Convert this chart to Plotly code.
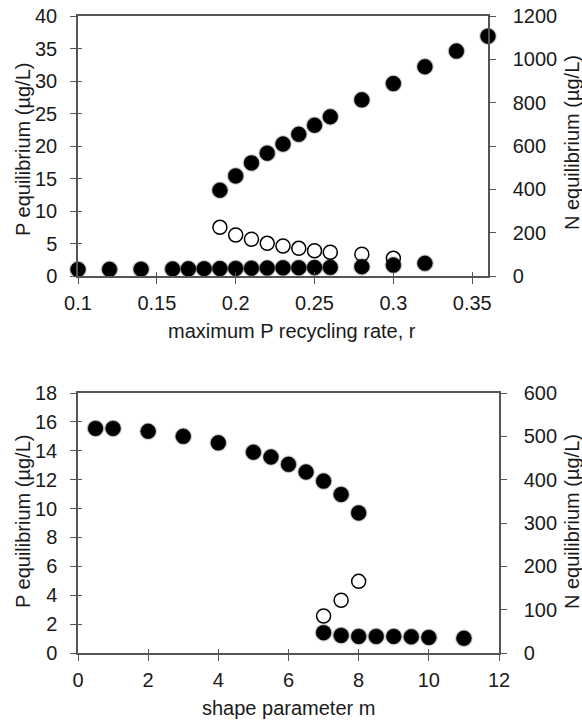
import plotly.graph_objects as go

# ---------------- data: top panel (maximum P recycling rate r) ----------------
r_low = [0.10, 0.12, 0.14, 0.16, 0.17, 0.18, 0.19, 0.20, 0.21, 0.22, 0.23, 0.24, 0.25, 0.26, 0.28, 0.30, 0.32]
p_low = [1.0, 1.02, 1.05, 1.08, 1.1, 1.12, 1.14, 1.17, 1.2, 1.22, 1.25, 1.27, 1.3, 1.33, 1.43, 1.68, 1.95]

r_high = [0.19, 0.20, 0.21, 0.22, 0.23, 0.24, 0.25, 0.26, 0.28, 0.30, 0.32, 0.34, 0.36]
p_high = [13.2, 15.4, 17.4, 18.9, 20.3, 21.8, 23.2, 24.5, 27.1, 29.6, 32.2, 34.6, 36.9]

r_uns = [0.19, 0.20, 0.21, 0.22, 0.23, 0.24, 0.25, 0.26, 0.28, 0.30]
p_uns = [7.49, 6.31, 5.65, 5.03, 4.62, 4.26, 3.89, 3.65, 3.34, 2.72]

# ---------------- data: bottom panel (shape parameter m) ----------------
m_high = [0.5, 1, 2, 3, 4, 5, 5.5, 6, 6.5, 7, 7.5, 8]
q_high = [15.55, 15.55, 15.35, 15.0, 14.55, 13.9, 13.57, 13.06, 12.53, 11.9, 10.98, 9.7]

m_uns = [7, 7.5, 8]
q_uns = [2.56, 3.65, 4.96]

m_low = [7, 7.5, 8, 8.5, 9, 9.5, 10, 11]
q_low = [1.41, 1.22, 1.15, 1.15, 1.15, 1.12, 1.08, 1.02]

# ---------------- tick labels ----------------
top_x_ticks = [0.1, 0.15, 0.2, 0.25, 0.3, 0.35]
top_y_ticks = [0, 5, 10, 15, 20, 25, 30, 35, 40]
top_y2_ticks = [0, 200, 400, 600, 800, 1000, 1200]
bot_x_ticks = [0, 2, 4, 6, 8, 10, 12]
bot_y_ticks = [0, 2, 4, 6, 8, 10, 12, 14, 16, 18]
bot_y2_ticks = [0, 100, 200, 300, 400, 500, 600]

FONT = "Liberation Sans, Arial, Helvetica, sans-serif"
TXT = "#1a1a1a"
AX = "#555555"
FS = 20

fig = go.Figure()

def filled(x, y, xa, ya):
    # soft shadow
    fig.add_trace(go.Scatter(x=x, y=y, xaxis=xa, yaxis=ya, mode="markers", cliponaxis=False,
                             marker=dict(size=18, color="rgba(0,0,0,0.15)", line=dict(width=0)),
                             hoverinfo="skip", showlegend=False))
    fig.add_trace(go.Scatter(x=x, y=y, xaxis=xa, yaxis=ya, mode="markers", cliponaxis=False,
                             marker=dict(size=15, color="black", line=dict(width=0.5, color="black")),
                             showlegend=False))

def hollow(x, y, xa, ya):
    fig.add_trace(go.Scatter(x=x, y=y, xaxis=xa, yaxis=ya, mode="markers", cliponaxis=False,
                             marker=dict(size=14, color="white", line=dict(width=1.5, color="black")),
                             showlegend=False))

hollow(r_uns, p_uns, "x", "y")
filled(r_low, p_low, "x", "y")
filled(r_high, p_high, "x", "y")

hollow(m_uns, q_uns, "x2", "y2")
filled(m_high, q_high, "x2", "y2")
filled(m_low, q_low, "x2", "y2")

tickfont = dict(family=FONT, size=FS, color=TXT)
common_x = dict(showline=True, linecolor=AX, linewidth=1.5, mirror=True, ticks="outside",
                ticklen=6, tickwidth=1.2, tickcolor=AX, showgrid=False, zeroline=False,
                tickfont=tickfont, ticklabelstandoff=2, automargin=False)
common_y = dict(showline=True, linecolor=AX, linewidth=1.5, ticks="outside",
                ticklen=6, tickwidth=1.2, tickcolor=AX, showgrid=False, zeroline=False,
                tickfont=tickfont, ticklabelstandoff=9, automargin=False)
inside_tick = dict(showline=False, ticks="inside", ticklen=4, tickwidth=1.2, tickcolor=AX,
                   showgrid=False, zeroline=False, showticklabels=False, automargin=False)

top_xdom = [78 / 582, 488 / 582]
bot_xdom = [78 / 582, 499 / 582]
top_ydom = [1 - 276 / 723, 1 - 16 / 723]
bot_ydom = [1 - 653 / 723, 1 - 393 / 723]

fig.update_layout(
    width=582, height=723,
    margin=dict(l=0, r=0, t=0, b=0, autoexpand=False),
    paper_bgcolor="white", plot_bgcolor="white",
    font=dict(family=FONT, size=FS, color=TXT),
    showlegend=False,
    xaxis=dict(common_x, domain=top_xdom, anchor="y", range=[0.1, 0.36],
               tickvals=top_x_ticks, ticktext=[str(v) for v in top_x_ticks]),
    yaxis=dict(common_y, domain=top_ydom, anchor="x", range=[0, 40],
               tickvals=top_y_ticks, ticktext=[str(v) for v in top_y_ticks]),
    yaxis3=dict(common_y, overlaying="y", side="right", anchor="x", range=[0, 1200],
                tickvals=top_y2_ticks, ticktext=[str(v) for v in top_y2_ticks], ticklabelstandoff=13),
    xaxis2=dict(common_x, domain=bot_xdom, anchor="y2", range=[0, 12],
                tickvals=bot_x_ticks, ticktext=[str(v) for v in bot_x_ticks]),
    yaxis2=dict(common_y, domain=bot_ydom, anchor="x2", range=[0, 18],
                tickvals=bot_y_ticks, ticktext=[str(v) for v in bot_y_ticks]),
    yaxis4=dict(common_y, overlaying="y2", side="right", anchor="x2", range=[0, 600],
                tickvals=bot_y2_ticks, ticktext=[str(v) for v in bot_y2_ticks], ticklabelstandoff=13),
    # inside halves of the crossing tick marks
    xaxis3=dict(inside_tick, overlaying="x", anchor="y", side="bottom", range=[0.1, 0.36], tickvals=top_x_ticks),
    yaxis5=dict(inside_tick, overlaying="y", anchor="x", side="left", range=[0, 40], tickvals=top_y_ticks),
    xaxis4=dict(inside_tick, overlaying="x2", anchor="y2", side="bottom", range=[0, 12], tickvals=bot_x_ticks),
    yaxis6=dict(inside_tick, overlaying="y2", anchor="x2", side="left", range=[0, 18], tickvals=bot_y_ticks),
)

# invisible traces so the overlay axes are attached
for xa, ya in [("x", "y3"), ("x2", "y4"), ("x3", "y"), ("x", "y5"), ("x4", "y2"), ("x2", "y6")]:
    fig.add_trace(go.Scatter(x=[None], y=[None], xaxis=xa, yaxis=ya, showlegend=False, hoverinfo="skip"))

ann = dict(xref="paper", yref="paper", showarrow=False, font=dict(family=FONT, size=FS, color=TXT))
fig.add_annotation(ann, text="maximum P recycling rate, r", x=292 / 582, y=1 - 331 / 723,
                   xanchor="center", yanchor="middle")
fig.add_annotation(ann, text="shape parameter m", x=288 / 582, y=1 - 708 / 723,
                   xanchor="center", yanchor="middle")
fig.add_annotation(ann, text="P equilibrium (µg/L)", x=23 / 582, y=1 - 150 / 723, textangle=-90,
                   xanchor="center", yanchor="middle")
fig.add_annotation(ann, text="P equilibrium (µg/L)", x=23 / 582, y=1 - 522 / 723, textangle=-90,
                   xanchor="center", yanchor="middle")
fig.add_annotation(ann, text="N equilibrium (µg/L)", x=572 / 582, y=1 - 143 / 723, textangle=-90,
                   xanchor="center", yanchor="middle")
fig.add_annotation(ann, text="N equilibrium (µg/L)", x=572 / 582, y=1 - 522 / 723, textangle=-90,
                   xanchor="center", yanchor="middle")

fig.write_html("out.html", config={"displayModeBar": False},
               post_script="document.body.style.margin='0';document.body.style.overflow='hidden';")
